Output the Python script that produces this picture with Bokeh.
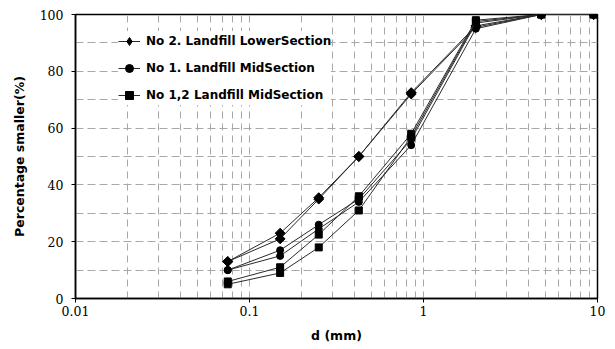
import math
from bokeh.plotting import figure
from bokeh.models import (Range1d, FixedTicker, CustomJSTickFormatter, Legend, LegendItem)
from bokeh.embed import file_html
from bokeh.resources import INLINE

# Sieve sizes (mm) and percent passing for each sample
sieve_mm = [0.075, 0.15, 0.25, 0.425, 0.85, 2.0, 4.75, 9.5]
lower_a = [13, 23, 35.5, 50, 72.5, 96, 100, 100]
lower_b = [13, 21, 35, 50, 72, 95.5, 100, 100]
mid1_a = [10, 17, 26, 35, 56, 97, 100, 100]
mid1_b = [10, 15, 24.5, 34, 54, 95, 100, 100]
mid12_a = [6, 11, 22.5, 36, 58, 98, 100, 100]
mid12_b = [5, 9, 18, 31, 57, 97.5, 100, 100]

legend_labels = ["No 2. Landfill LowerSection",
                 "No 1. Landfill MidSection",
                 "No 1,2 Landfill MidSection"]

x_major = [0.01, 0.1, 1, 10]
x_minor = [m * d for d in (0.01, 0.1, 1) for m in range(2, 10)]
y_major = [0, 20, 40, 60, 80, 100]
y_minor = [10, 30, 50, 70, 90]

p = figure(width=615, height=349, x_axis_type="log",
           x_range=Range1d(0.01, 10), y_range=Range1d(0, 100),
           output_backend="svg", toolbar_location=None,
           min_border_left=75, min_border_right=18,
           min_border_top=14, min_border_bottom=51)
p.background_fill_color = "white"
p.border_fill_color = "white"
p.outline_line_color = "black"
p.outline_line_width = 1.5

tick_font = "DejaVu Serif"
label_font = "DejaVu Sans"

p.xaxis.ticker = FixedTicker(ticks=x_major, minor_ticks=x_minor)
p.yaxis.ticker = FixedTicker(ticks=y_major, minor_ticks=y_minor)
p.xaxis.formatter = CustomJSTickFormatter(code="return tick.toString();")

for ax in (p.xaxis[0], p.yaxis[0]):
    ax.axis_line_color = "black"
    ax.axis_line_width = 1.5
    ax.major_tick_line_color = "black"
    ax.major_tick_out = 4
    ax.major_tick_in = 0
    ax.minor_tick_line_color = None
    ax.major_label_text_font = tick_font
    ax.major_label_text_font_size = "12.5px"
    ax.major_label_text_color = "black"
    ax.axis_label_text_font = label_font
    ax.axis_label_text_font_style = "bold"
    ax.axis_label_text_font_size = "12.5px"
    ax.axis_label_text_color = "black"

p.xaxis.axis_label = "d (mm)"
p.yaxis.axis_label = "Percentage smaller(%)"
p.xaxis.major_label_standoff = 3
p.xaxis.axis_label_standoff = 9
p.yaxis.major_label_standoff = 8
p.yaxis.axis_label_standoff = 10

for g in (p.xgrid[0], p.ygrid[0]):
    g.grid_line_color = "#a8a8a8"
    g.grid_line_dash = "7 5"
    g.grid_line_width = 1
    g.minor_grid_line_color = "#a8a8a8"
    g.minor_grid_line_dash = "7 5"
    g.minor_grid_line_width = 1
p.ygrid.grid_line_dash = "8 4"
p.ygrid.minor_grid_line_dash = "8 4"

line_color = "#2a2a2a"
# (values, marker, size, angle) -- diamonds are squares turned 45 degrees
series = [
    (lower_a, "square", 7, math.pi / 4), (lower_b, "square", 7, math.pi / 4),
    (mid1_a, "circle", 7, 0), (mid1_b, "circle", 7, 0),
    (mid12_a, "square", 7, 0), (mid12_b, "square", 7, 0),
]
renderers = []
for ys, marker, size, angle in series:
    ln = p.line(sieve_mm, ys, line_color=line_color, line_width=1)
    sc = p.scatter(sieve_mm, ys, marker=marker, size=size, angle=angle,
                   fill_color="black", line_color="black")
    renderers.append((ln, sc))

# legend swatch for the diamond series (legend glyphs ignore marker angle),
# kept hidden on the plot itself
diamond_key = p.scatter(sieve_mm, lower_a, marker="diamond", size=11,
                        fill_color="black", line_color="black", visible=False)

legend_renderers = [
    [renderers[0][0], diamond_key],
    list(renderers[2]),
    list(renderers[4]),
]
items = [LegendItem(label=legend_labels[i], renderers=legend_renderers[i])
         for i in range(3)]
legend = Legend(items=items, location=(43, 193))
legend.background_fill_color = "white"
legend.background_fill_alpha = 1.0
legend.border_line_color = None
legend.padding = 10
legend.spacing = 7
legend.glyph_width = 22
legend.glyph_height = 20
legend.label_height = 20
legend.label_standoff = 6
legend.label_text_font = label_font
legend.label_text_font_style = "bold"
legend.label_text_font_size = "12px"
legend.label_text_color = "black"
legend.inactive_fill_alpha = 0.0
p.add_layout(legend, "center")

open("out.html", "w").write(file_html(p, INLINE))
